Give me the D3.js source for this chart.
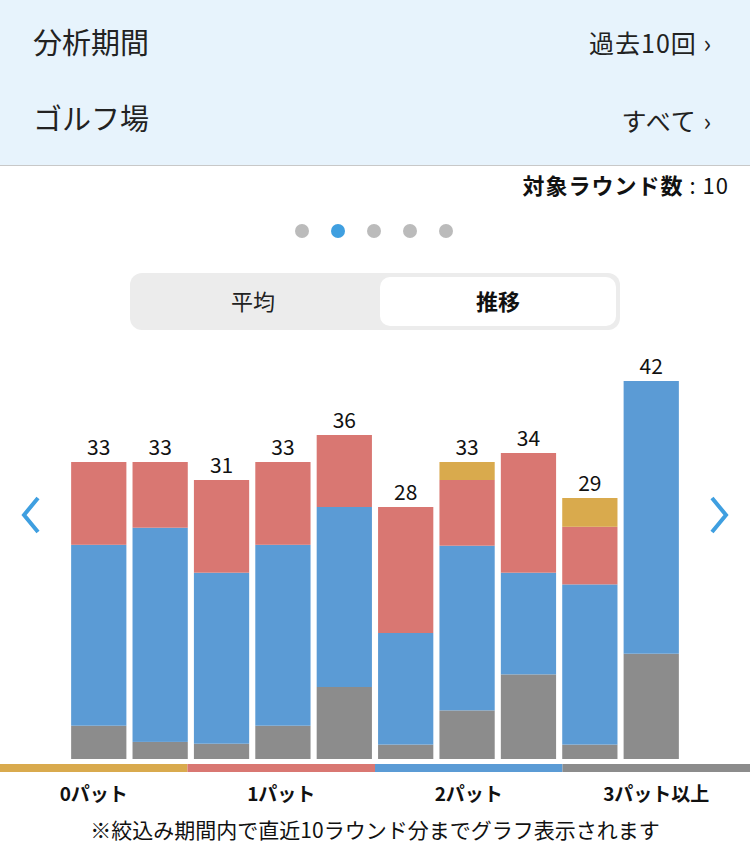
<!DOCTYPE html>
<html><head><meta charset="utf-8">
<script src="https://cdn.jsdelivr.net/npm/d3@7"></script>
<style>body{margin:0;background:#fff;font-family:"Noto Sans CJK JP",sans-serif}</style>
</head><body>
<script>
// stacked values per round, bottom to top: 3パット以上, 2パット, 1パット, 0パット
var rounds = [1,2,3,4,5,6,7,8,9,10];
var totals = [33,33,31,33,36,28,33,34,29,42];
var putt3 = [3.7,1.9,1.7,3.7,8,1.6,5.4,9.4,1.6,11.7];
var putt2 = [20.1,23.8,19,20.1,20,12.4,18.3,11.3,17.8,30.3];
var putt1 = [9.2,7.3,10.3,9.2,8,14,7.3,13.3,6.4,0];
var putt0 = [0,0,0,0,0,0,2,0,3.2,0];
var legendLabels = ["0パット","1パット","2パット","3パット以上"];
var colors = {p0:"#d9aa4d", p1:"#d97772", p2:"#5b9bd5", p3:"#8c8c8c"};

var svg = d3.select("body").append("svg").attr("width",750).attr("height",847);

svg.append("rect").attr("width",750).attr("height",165).attr("fill","#e7f3fc");
svg.append("line").attr("x1",0).attr("x2",750).attr("y1",165.5).attr("y2",165.5).attr("stroke","#c8c8c8");
svg.append("text").attr("x",33).attr("y",54).attr("font-size",29).attr("fill","#222").text("分析期間");
svg.append("text").attr("x",33).attr("y",130).attr("font-size",29).attr("fill","#222").text("ゴルフ場");
svg.append("text").attr("x",712).attr("y",53).attr("font-size",25).attr("letter-spacing",1).attr("text-anchor","end").attr("fill","#222").text("過去10回  ›");
svg.append("text").attr("x",712).attr("y",131).attr("font-size",25).attr("letter-spacing",1).attr("text-anchor","end").attr("fill","#222").text("すべて  ›");

var t = svg.append("text").attr("x",729).attr("y",194).attr("font-size",22).attr("text-anchor","end").attr("fill","#111");
t.append("tspan").attr("font-weight","bold").attr("letter-spacing",1).text("対象ラウンド数");
t.append("tspan").attr("letter-spacing",1).text(" :  10");

[302,338,374,410,446].forEach(function(cx,i){
  svg.append("circle").attr("cx",cx).attr("cy",231).attr("r",7).attr("fill", i==1 ? "#3f9fe0" : "#bbbbbb");
});

svg.append("rect").attr("x",130).attr("y",273).attr("width",490).attr("height",57).attr("rx",12).attr("fill","#ececec");
svg.append("rect").attr("x",380).attr("y",277).attr("width",236).attr("height",49).attr("rx",10).attr("fill","#fff");
svg.append("text").attr("x",253).attr("y",310).attr("font-size",22).attr("text-anchor","middle").attr("fill","#222").text("平均");
svg.append("text").attr("x",498).attr("y",310).attr("font-size",22).attr("text-anchor","middle").attr("font-weight","bold").attr("fill","#111").text("推移");

var x = d3.scaleBand().domain(rounds).range([65,685]).paddingInner(0.1).paddingOuter(0.1);
var y = d3.scaleLinear().domain([0,42]).range([759,381]);

var data = rounds.map(function(r,i){ return {round:r, p3:putt3[i], p2:putt2[i], p1:putt1[i], p0:putt0[i], total:totals[i]}; });
var stack = d3.stack().keys(["p3","p2","p1","p0"])(data);

svg.selectAll("g.layer").data(stack).enter().append("g")
  .attr("fill", function(d){ return colors[d.key]; })
  .selectAll("rect").data(function(d){ return d; }).enter().append("rect")
  .attr("x", function(d){ return x(d.data.round); })
  .attr("width", x.bandwidth())
  .attr("y", function(d){ return y(d[1]); })
  .attr("height", function(d){ return y(d[0]) - y(d[1]); });

svg.selectAll("text.total").data(data).enter().append("text")
  .attr("x", function(d){ return x(d.round) + x.bandwidth()/2; })
  .attr("y", function(d){ return y(d.total) - 7; })
  .attr("text-anchor","middle").attr("font-size",21).attr("fill","#111")
  .text(function(d){ return d.total; });

// nav arrows
svg.append("path").attr("d","M38,498 L24,515 L38,532").attr("fill","none").attr("stroke","#3f9fe0").attr("stroke-width",4);
svg.append("path").attr("d","M712,498 L726,515 L712,532").attr("fill","none").attr("stroke","#3f9fe0").attr("stroke-width",4);

var lx = d3.scaleBand().domain(legendLabels).range([0,750]);
var lcol = [colors.p0, colors.p1, colors.p2, colors.p3];
svg.selectAll("rect.leg").data(legendLabels).enter().append("rect")
  .attr("x", function(d){ return lx(d); }).attr("y",764).attr("width",lx.bandwidth()).attr("height",8)
  .attr("fill", function(d,i){ return lcol[i]; });
svg.selectAll("text.leg").data(legendLabels).enter().append("text")
  .attr("x", function(d){ return lx(d) + lx.bandwidth()/2; }).attr("y",801)
  .attr("text-anchor","middle").attr("font-size",19).attr("font-weight","bold").attr("fill","#111")
  .text(function(d){ return d; });

svg.append("text").attr("x",375).attr("y",838).attr("text-anchor","middle").attr("font-size",21).attr("fill","#111")
  .text("※絞込み期間内で直近10ラウンド分までグラフ表示されます");
</script>
</body></html>
